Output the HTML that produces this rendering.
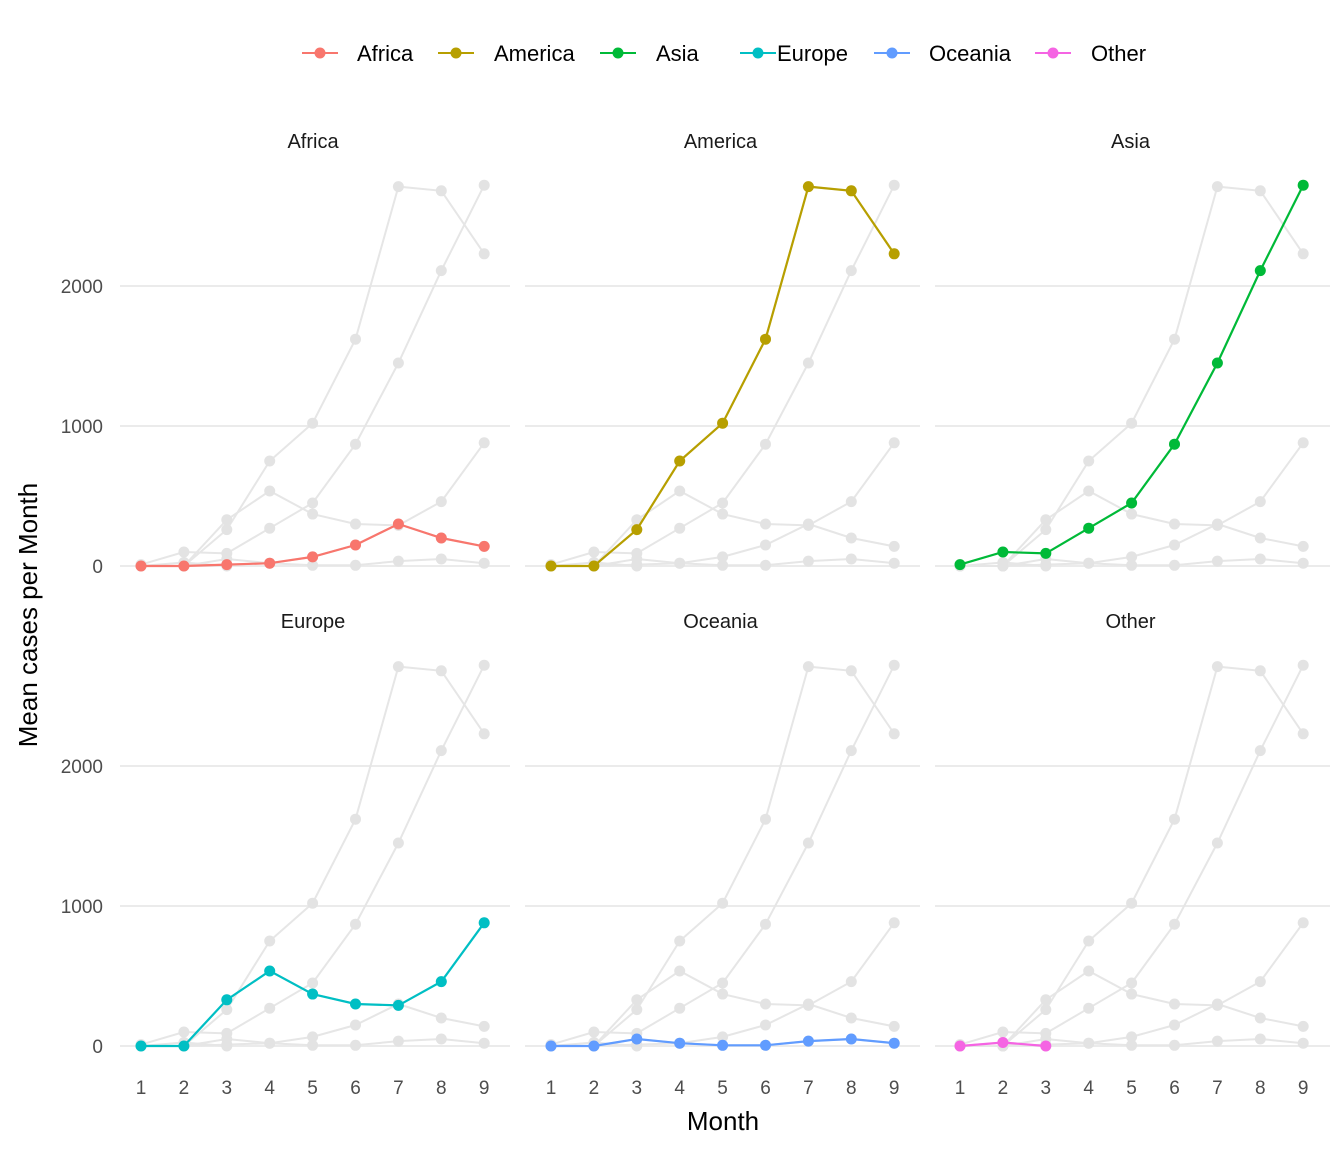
<!DOCTYPE html>
<html><head><meta charset="utf-8"><style>
html,body{margin:0;padding:0;background:#fff;}
svg text{font-family:"Liberation Sans",sans-serif;}
</style></head><body>
<svg id="s" width="1344" height="1152" xmlns="http://www.w3.org/2000/svg"></svg>
<script>
const data={
Africa:[0,0,10,20,65,150,300,200,140],
America:[0,0,260,750,1020,1620,2710,2680,2230],
Asia:[10,100,90,270,450,870,1450,2110,2720],
Europe:[0,0,330,536,371,300,290,460,880],
Oceania:[0,0,50,20,5,5,35,50,20],
Other:[0,25,0]};
const cols={Africa:"#F8766D",America:"#B79F00",Asia:"#00BA38",Europe:"#00BFC4",Oceania:"#619CFF",Other:"#F564E3"};
const names=Object.keys(data);
const px=[[120,510,141],[525,920,551],[935,1330,960]];
const py=[566,1046];
let h='';
names.forEach((n,i)=>{
 const c=i%3,r=Math.floor(i/3);
 const [x0,x1,m1]=px[c];const y0=py[r];
 const X=k=>m1+k*42.9, Y=v=>y0-v*0.14;
 [0,1000,2000].forEach(v=>{h+=`<line x1="${x0}" x2="${x1}" y1="${Y(v)}" y2="${Y(v)}" stroke="#ebebeb" stroke-width="2"/>`;});
 h+=`<text x="${(x0+x1)/2-2}" y="${y0-418}" font-size="20" text-anchor="middle" fill="#1a1a1a">${n}</text>`;
 names.forEach(m=>{const d=data[m];
  h+=`<polyline fill="none" stroke="#e6e6e6" stroke-width="2" points="${d.map((v,k)=>X(k)+','+Y(v)).join(' ')}"/>`;
  d.forEach((v,k)=>h+=`<circle cx="${X(k)}" cy="${Y(v)}" r="5.5" fill="#e3e3e3"/>`);});
 const d=data[n];
 h+=`<polyline fill="none" stroke="${cols[n]}" stroke-width="2.2" points="${d.map((v,k)=>X(k)+','+Y(v)).join(' ')}"/>`;
 d.forEach((v,k)=>h+=`<circle cx="${X(k)}" cy="${Y(v)}" r="5.5" fill="${cols[n]}"/>`);
 if(c==0)[0,1000,2000].forEach(v=>h+=`<text x="103" y="${Y(v)+7}" font-size="19" text-anchor="end" fill="#4d4d4d">${v}</text>`);
 if(r==1)for(let k=0;k<9;k++)h+=`<text x="${X(k)}" y="1094" font-size="19" text-anchor="middle" fill="#4d4d4d">${k+1}</text>`;
});
h+=`<text x="723" y="1130" font-size="26" text-anchor="middle" fill="#000">Month</text>`;
h+=`<text transform="translate(37,615) rotate(-90)" font-size="26" text-anchor="middle" fill="#000">Mean cases per Month</text>`;
const lg=[["Africa",320,357],["America",456,494],["Asia",618,656],["Europe",758,777],["Oceania",892,929],["Other",1053,1091]];
lg.forEach(([n,d,t])=>{h+=`<line x1="${d-18}" x2="${d+18}" y1="53" y2="53" stroke="${cols[n]}" stroke-width="2"/><circle cx="${d}" cy="53" r="5.5" fill="${cols[n]}"/><text x="${t}" y="61" font-size="22" fill="#000">${n}</text>`;});
document.getElementById('s').innerHTML=h;
</script>
</body></html>
